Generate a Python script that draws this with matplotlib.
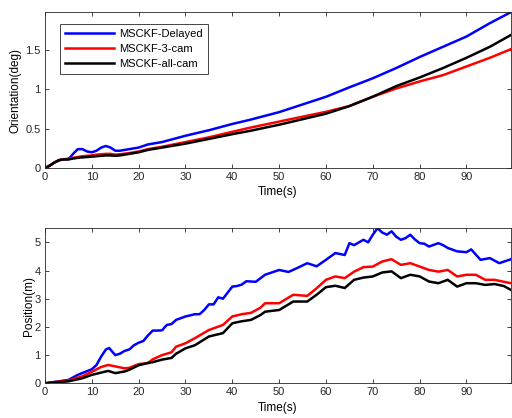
import matplotlib
matplotlib.use("Agg")
import matplotlib.pyplot as plt

plt.rcParams['font.family'] = ['Liberation Sans', 'DejaVu Sans']

# orientation error (deg)
t_ori = [0, 1, 2, 3, 4, 5, 6, 7, 8, 9, 10, 11, 12, 13, 14, 15, 16, 18, 20, 22, 25,
         30, 35, 40, 43.6, 50, 60, 65, 70, 75, 80, 85, 90, 95, 99.5]
ori_delayed = [0, 0.03, 0.07, 0.10, 0.11, 0.11, 0.18, 0.24, 0.24, 0.21, 0.20, 0.22, 0.26, 0.28,
               0.26, 0.22, 0.22, 0.24, 0.26, 0.30, 0.33, 0.41, 0.48, 0.56, 0.61, 0.71, 0.905,
               1.025, 1.14, 1.27, 1.41, 1.54, 1.67, 1.84, 1.98]
ori_3cam = [0, 0.03, 0.07, 0.10, 0.11, 0.12, 0.13, 0.14, 0.15, 0.155, 0.16, 0.17, 0.175, 0.18,
            0.18, 0.17, 0.175, 0.19, 0.21, 0.24, 0.27, 0.33, 0.39, 0.46, 0.51, 0.59, 0.714,
            0.787, 0.906, 1.01, 1.10, 1.18, 1.29, 1.40, 1.51]
ori_allcam = [0, 0.03, 0.07, 0.10, 0.11, 0.11, 0.12, 0.13, 0.135, 0.14, 0.145, 0.15, 0.155, 0.16,
              0.16, 0.155, 0.16, 0.18, 0.20, 0.23, 0.26, 0.31, 0.37, 0.43, 0.47, 0.55, 0.69,
              0.787, 0.906, 1.04, 1.15, 1.27, 1.40, 1.54, 1.69]

# position error (m)
t_pos_b = [0, 5, 7, 8.5, 10, 11, 12, 13, 13.7, 15, 16, 17, 18, 19, 20, 21, 22, 23, 24, 25, 26,
           27, 28, 30, 32, 33, 34, 35, 36, 37, 38, 40, 41, 42, 43, 45, 47, 50, 52, 54, 56, 58,
           60, 62, 64, 65, 66, 68, 69, 70, 71, 72, 73, 74, 75, 76, 77, 78, 79, 80, 81, 82, 84,
           85, 86, 88, 90, 91, 93, 95, 97, 99.5]
pos_delayed = [0, 0.12, 0.3, 0.4, 0.5, 0.65, 0.95, 1.2, 1.25, 1.0, 1.05, 1.15, 1.2, 1.35, 1.44,
               1.5, 1.7, 1.87, 1.87, 1.88, 2.07, 2.1, 2.25, 2.37, 2.45, 2.45, 2.6, 2.8, 2.8, 3.05,
               3.0, 3.43, 3.45, 3.5, 3.62, 3.6, 3.85, 4.02, 3.95, 4.1, 4.26, 4.15, 4.38, 4.62,
               4.55, 4.97, 4.9, 5.09, 5.0, 5.27, 5.5, 5.35, 5.27, 5.39, 5.2, 5.09, 5.15, 5.27,
               5.1, 4.97, 4.95, 4.85, 4.97, 4.9, 4.8, 4.68, 4.65, 4.75, 4.38, 4.44, 4.26, 4.4]

t_pos = [0, 5, 8, 10, 12, 13.5, 15, 17, 18, 20, 22, 23, 25, 27, 28, 30, 32, 35, 38, 40, 42, 44,
         46, 47, 50, 53, 56, 58, 60, 62, 64, 66, 68, 70, 72, 74, 76, 78, 80, 82, 84, 86, 88,
         90, 92, 94, 96, 98, 99.5]
pos_3cam = [0, 0.1, 0.25, 0.41, 0.58, 0.65, 0.6, 0.53, 0.55, 0.68, 0.72, 0.85, 1.0, 1.1, 1.3,
            1.42, 1.6, 1.89, 2.07, 2.37, 2.45, 2.5, 2.68, 2.84, 2.84, 3.14, 3.1, 3.37, 3.67,
            3.79, 3.73, 3.96, 4.12, 4.14, 4.32, 4.4, 4.2, 4.26, 4.14, 4.02, 3.96, 4.02, 3.79,
            3.85, 3.85, 3.67, 3.67, 3.6, 3.55]
pos_allcam = [0, 0.07, 0.18, 0.3, 0.38, 0.44, 0.36, 0.42, 0.48, 0.64, 0.72, 0.75, 0.84, 0.9,
              1.05, 1.24, 1.35, 1.66, 1.78, 2.13, 2.2, 2.25, 2.42, 2.54, 2.6, 2.9, 2.9, 3.14,
              3.41, 3.46, 3.38, 3.67, 3.75, 3.79, 3.93, 3.97, 3.73, 3.85, 3.79, 3.61, 3.55,
              3.67, 3.43, 3.55, 3.55, 3.49, 3.52, 3.45, 3.31]

labels = ["MSCKF-Delayed", "MSCKF-3-cam", "MSCKF-all-cam"]
colors = ["#0000ff", "#ff0000", "#000000"]
xticks = [0, 10, 20, 30, 40, 50, 60, 70, 80, 90]

fig = plt.figure(figsize=(5.12, 4.18), dpi=100)
ax1 = fig.add_axes([0.0879, 0.598, 0.9101, 0.373])
ax2 = fig.add_axes([0.0879, 0.083, 0.9101, 0.371])

ax1.plot(t_ori, ori_delayed, color=colors[0], lw=1.8, label=labels[0])
ax1.plot(t_ori, ori_3cam, color=colors[1], lw=1.8, label=labels[1])
ax1.plot(t_ori, ori_allcam, color=colors[2], lw=1.8, label=labels[2])
ax1.set_ylim(0, 1.98)
ax1.set_yticks([0, 0.5, 1, 1.5])
ax1.set_yticklabels(["0", "0.5", "1", "1.5"])
ax1.set_ylabel("Orientation(deg)", fontsize=8.5, labelpad=3)

ax2.plot(t_pos_b, pos_delayed, color=colors[0], lw=1.8)
ax2.plot(t_pos, pos_3cam, color=colors[1], lw=1.8)
ax2.plot(t_pos, pos_allcam, color=colors[2], lw=1.8)
ax2.set_ylim(0, 5.5)
ax2.set_yticks([0, 1, 2, 3, 4, 5])
ax2.set_ylabel("Position(m)", fontsize=8.5, labelpad=0)

for ax in (ax1, ax2):
    ax.set_xlim(0, 99.5)
    ax.set_xticks(xticks)
    ax.set_xlabel("Time(s)", fontsize=8.5, labelpad=3)
    ax.tick_params(direction="in", top=True, right=True, length=3, width=0.6,
                   labelsize=8, colors="#262626", pad=3)
    for s in ax.spines.values():
        s.set_color("#262626")
        s.set_linewidth(0.6)

leg = ax1.legend(loc="upper left", bbox_to_anchor=(0.032, 0.925), borderaxespad=0,
                 fontsize=8, fancybox=False, framealpha=1, edgecolor="#262626",
                 handlelength=4.4, borderpad=0.5, labelspacing=0.42, handletextpad=0.4)
leg.get_frame().set_linewidth(0.6)

fig.savefig("out.png", dpi=100)
